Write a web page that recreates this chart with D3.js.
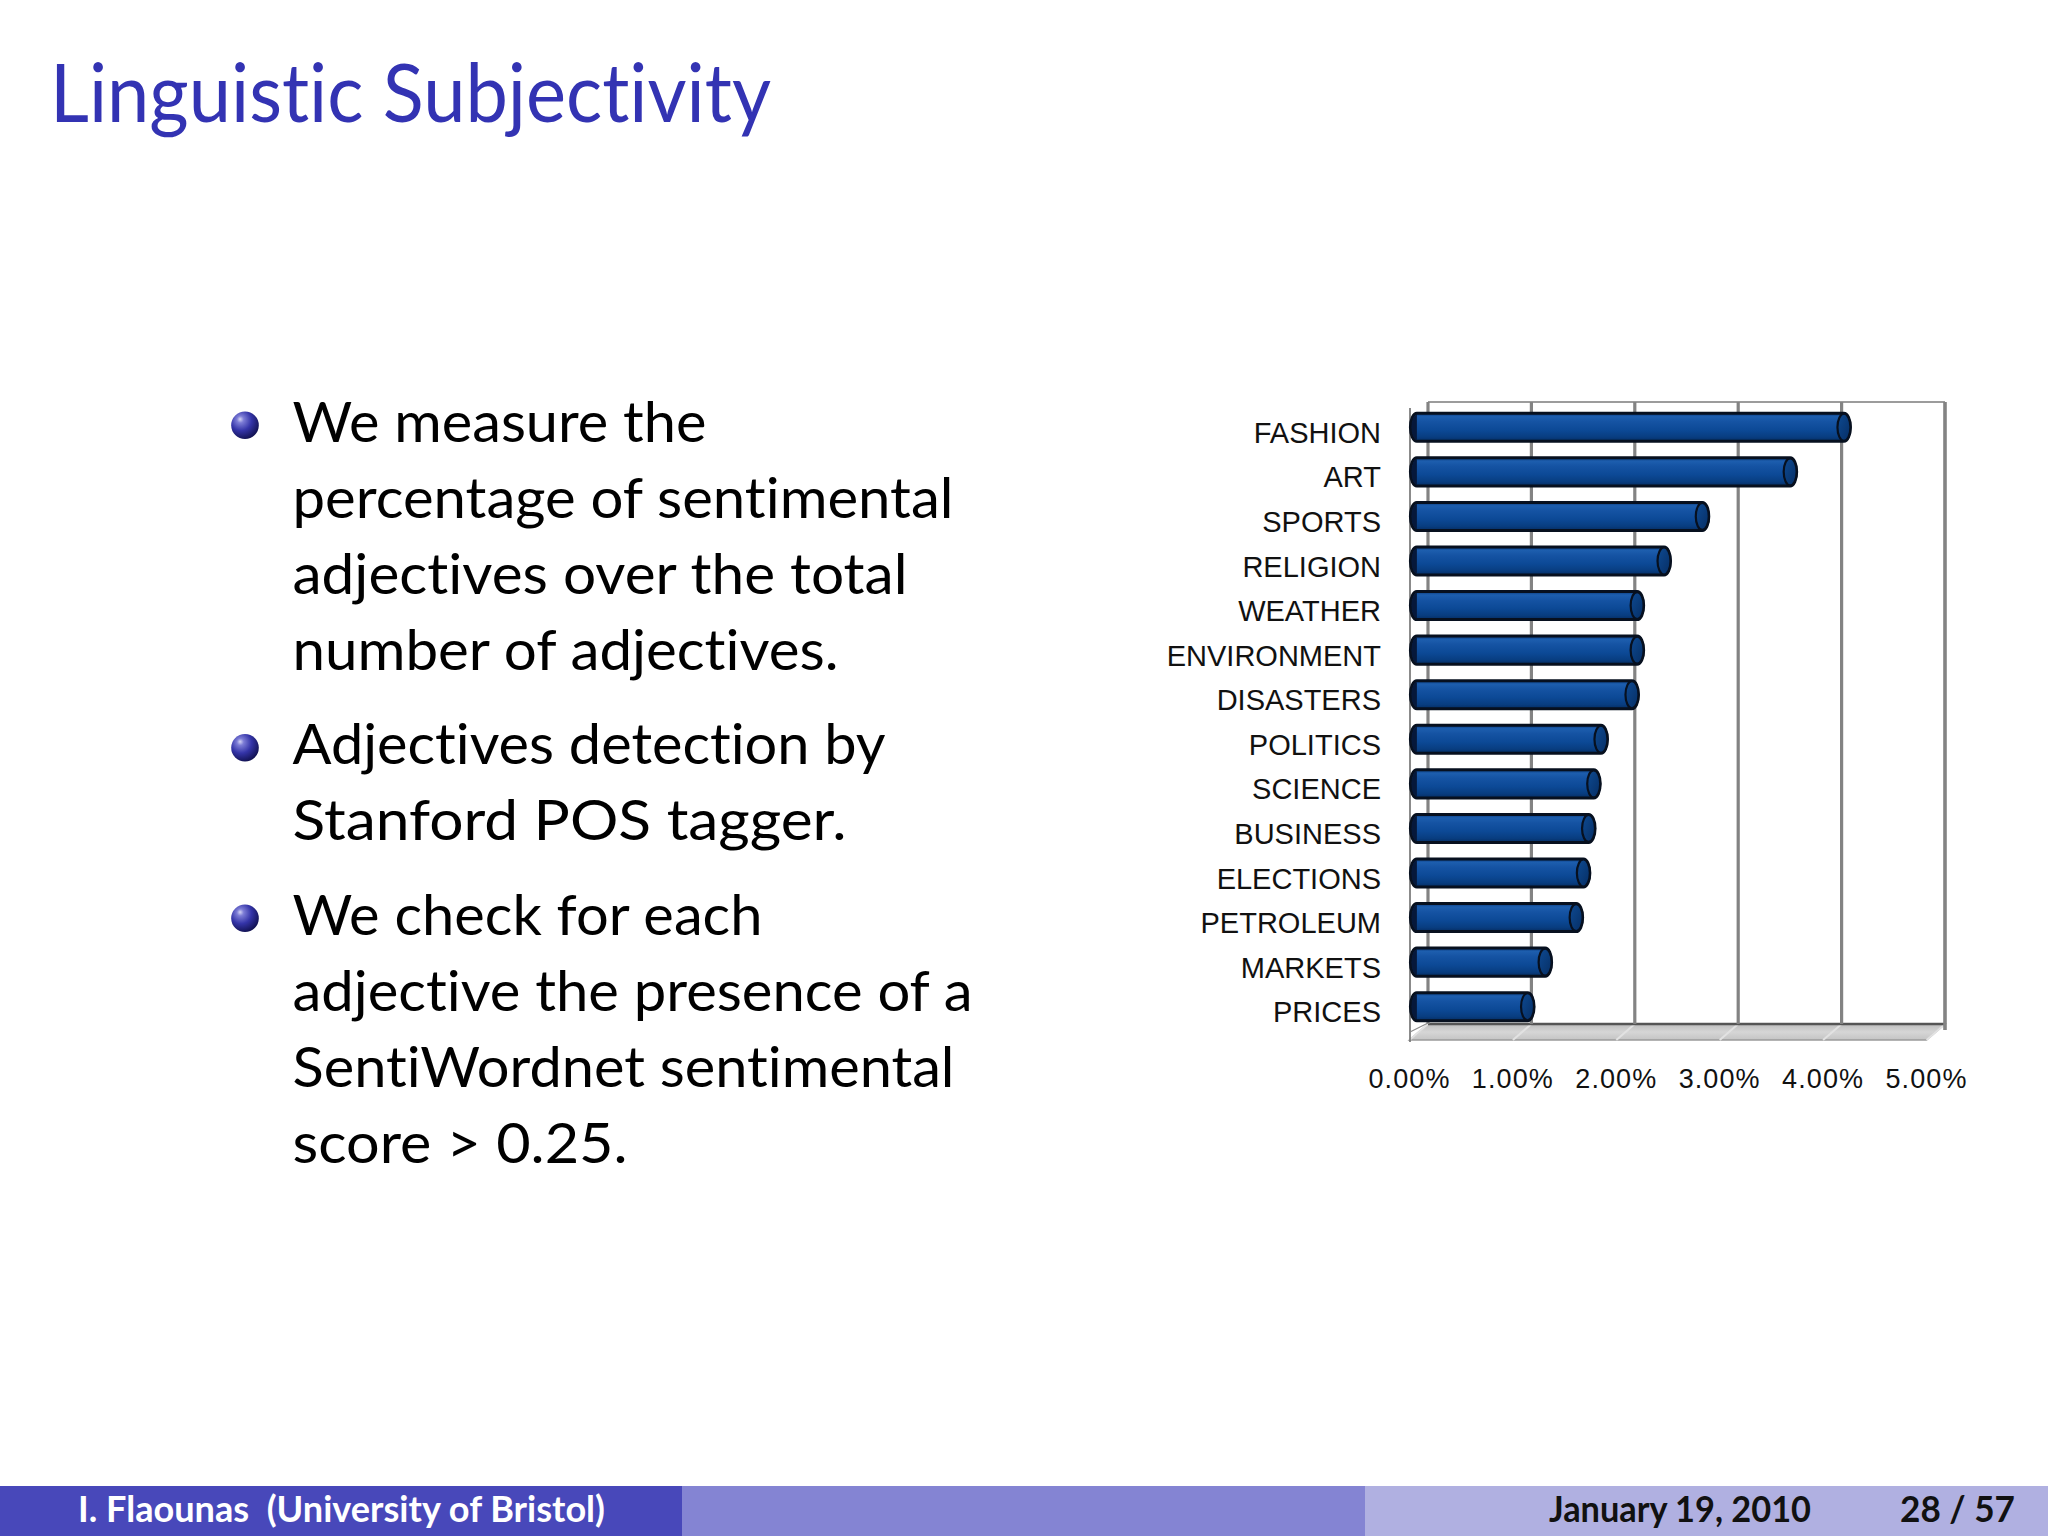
<!DOCTYPE html>
<html><head><meta charset="utf-8">
<script src="https://cdn.jsdelivr.net/npm/d3@7"></script>
<style>html,body{margin:0;padding:0;background:#fff;} svg{display:block;} text{font-variant-ligatures:none;font-feature-settings:"liga" 0,"clig" 0;}</style>
</head><body>
<svg id="c" width="2048" height="1536"></svg>
<script>
// ---- data ----
const categories = ["FASHION","ART","SPORTS","RELIGION","WEATHER","ENVIRONMENT","DISASTERS","POLITICS","SCIENCE","BUSINESS","ELECTIONS","PETROLEUM","MARKETS","PRICES"];
const values = [4.13,3.61,2.76,2.39,2.13,2.13,2.08,1.78,1.71,1.66,1.61,1.54,1.24,1.07];
const tickValues = [0,1,2,3,4,5];
const tickLabels = ["0.00%","1.00%","2.00%","3.00%","4.00%","5.00%"];
const titleText = "Linguistic Subjectivity";
const bulletItems = [
  ["We measure the","percentage of sentimental","adjectives over the total","number of adjectives."],
  ["Adjectives detection by","Stanford POS tagger."],
  ["We check for each","adjective the presence of a","SentiWordnet sentimental","score > 0.25."]
];
const bulletLineWidths = [[414,661,615,546],[593,554],[470,680,662,335]];
const footerAuthor = "I. Flaounas  (University of Bristol)";
const footerDate = "January 19, 2010";
const footerPage = "28 / 57";

// ---- layout ----
const svg = d3.select("#c");
const defs = svg.append("defs");

svg.append("rect").attr("width",2048).attr("height",1536).attr("fill","#fff");

// Title
svg.append("text").text(titleText)
  .attr("x",50).attr("y",121.5)
  .attr("font-family","Lato, 'Open Sans', sans-serif").attr("font-size",82)
  .attr("fill","#3333b3")
  .attr("textLength",721).attr("lengthAdjust","spacingAndGlyphs");

// Bullet ball gradient
const bg = defs.append("radialGradient").attr("id","ball")
  .attr("cx","0.38").attr("cy","0.34").attr("r","0.7").attr("fx","0.32").attr("fy","0.28");
bg.append("stop").attr("offset","0").attr("stop-color","#d4d4f4");
bg.append("stop").attr("offset","0.18").attr("stop-color","#7c7cd6");
bg.append("stop").attr("offset","0.55").attr("stop-color","#3434a8");
bg.append("stop").attr("offset","1").attr("stop-color","#10104e");

const lineH = 76, itemGap = 94.5;
let yb = 441.7;
bulletItems.forEach((lines, i) => {
  svg.append("circle").attr("cx",245).attr("cy",yb-16.5).attr("r",13.8).attr("fill","url(#ball)");
  lines.forEach((ln, j) => {
    svg.append("text").text(ln)
      .attr("x",292.5).attr("y",yb + j*lineH)
      .attr("font-family","Lato, 'Open Sans', sans-serif").attr("font-size",56)
      .attr("fill","#000")
      .attr("textLength",bulletLineWidths[i][j]).attr("lengthAdjust","spacingAndGlyphs");
  });
  yb += (lines.length-1)*lineH + itemGap;
});

// ---- chart ----
const DX = -18.5, DY = 16;            // depth offset back -> front
const barDepth = 0.6;                 // bars sit 60% of the way toward the front
const x = d3.scaleLinear().domain([0,5]).range([1428,1945]);   // back plane
const topY = 402, floorY = 1024;
const y = d3.scaleBand().domain(categories).range([405,1029]).paddingInner(0.37).paddingOuter(0.185);

const g = svg.append("g");

// floor
const fg = defs.append("linearGradient").attr("id","floor").attr("x1",0).attr("y1",0).attr("x2",0).attr("y2",1);
fg.append("stop").attr("offset","0").attr("stop-color","#bdbdbd");
fg.append("stop").attr("offset","0.5").attr("stop-color","#d6d6d6");
fg.append("stop").attr("offset","1").attr("stop-color","#c4c4c4");
g.append("path")
  .attr("d",`M${x(0)},${floorY} L${x(5)},${floorY} L${x(5)+DX},${floorY+DY} L${x(0)+DX},${floorY+DY} Z`)
  .attr("fill","url(#floor)").attr("stroke","#9a9a9a").attr("stroke-width",1.5);
// faint floor grid continuations
g.selectAll(".fl").data(tickValues).join("line")
  .attr("x1",d=>x(d)).attr("y1",floorY).attr("x2",d=>x(d)+DX).attr("y2",floorY+DY)
  .attr("stroke","#e2e2e2").attr("stroke-width",2);
g.append("line").attr("x1",x(0)).attr("x2",x(5)).attr("y1",floorY).attr("y2",floorY)
  .attr("stroke","#555").attr("stroke-width",2.5);

// back wall top line
g.append("line").attr("x1",x(0)).attr("x2",x(5)).attr("y1",topY).attr("y2",topY)
  .attr("stroke","#9c9c9c").attr("stroke-width",2.2);
// vertical gridlines
g.selectAll(".grid").data(tickValues).join("line")
  .attr("x1",d=>x(d)).attr("x2",d=>x(d)).attr("y1",topY).attr("y2",d=>d===5?floorY+6:floorY)
  .attr("stroke","#838383").attr("stroke-width",d=>d===5?3.6:3.2);
// left wall front edge
g.append("line").attr("x1",x(0)+DX+0.5).attr("x2",x(0)+DX+0.5).attr("y1",topY+6).attr("y2",floorY+DY+2)
  .attr("stroke","#6e6e6e").attr("stroke-width",1.6);
g.append("line").attr("x1",x(0)+DX+0.5).attr("y1",floorY+DY-8).attr("x2",x(0)).attr("y2",floorY-1)
  .attr("stroke","#8a8a8a").attr("stroke-width",1.2);

// bars (cylinders)
const bgr = defs.append("linearGradient").attr("id","bar").attr("x1",0).attr("y1",0).attr("x2",0).attr("y2",1);
[["0","#0a3a7c"],["0.12","#1d5eae"],["0.3","#1553a3"],["0.6","#0c4996"],["0.85","#083d80"],["1","#052d62"]]
  .forEach(([o,c])=>bgr.append("stop").attr("offset",o).attr("stop-color",c));
const cgr = defs.append("linearGradient").attr("id","cap").attr("x1",0).attr("y1",0).attr("x2",1).attr("y2",1);
[["0","#0e4a92"],["1","#062e64"]].forEach(([o,c])=>cgr.append("stop").attr("offset",o).attr("stop-color",c));

const bx = v => x(v) + barDepth*DX;
const hh = y.bandwidth()/2, rx = 6.5;
const bars = g.selectAll(".bar").data(categories.map((c,i)=>({c, v:values[i]}))).join("g");
bars.append("path")
  .attr("d", d => {
    const cy = y(d.c)+hh, x0 = bx(0), x1 = bx(d.v);
    return `M${x0},${cy-hh} L${x1},${cy-hh} A${rx},${hh} 0 0 1 ${x1},${cy+hh} L${x0},${cy+hh} A${rx},${hh} 0 0 1 ${x0},${cy-hh} Z`;
  })
  .attr("fill","url(#bar)").attr("stroke","#07101f").attr("stroke-width",3);
bars.append("path")
  .attr("d", d => {
    const cy = y(d.c)+hh, x0 = bx(0);
    return `M${x0},${cy-hh+1.5} A${rx-1},${hh-1.5} 0 0 0 ${x0},${cy+hh-1.5} Z`;
  })
  .attr("fill","#06183a");
bars.append("ellipse")
  .attr("cx", d => bx(d.v)).attr("cy", d => y(d.c)+hh)
  .attr("rx", rx).attr("ry", hh-0.5)
  .attr("fill","url(#cap)").attr("stroke","#07101f").attr("stroke-width",2.2);

// category labels
g.selectAll(".cat").data(categories).join("text")
  .text(d=>d)
  .attr("x",1381).attr("y",d=>y(d)+hh+15.5)
  .attr("text-anchor","end")
  .attr("font-family","'Liberation Sans', Arial, sans-serif").attr("font-size",29)
  .attr("fill","#111");

// tick labels
g.selectAll(".tick").data(tickValues).join("text")
  .text((d,i)=>tickLabels[i])
  .attr("x",d=>x(d)+DX).attr("y",1088)
  .attr("text-anchor","middle")
  .attr("font-family","'Liberation Sans', Arial, sans-serif").attr("font-size",27)
  .attr("letter-spacing",1.1)
  .attr("fill","#111");

// ---- footer ----
const fy = 1486, fh = 50;
svg.append("rect").attr("x",0).attr("y",fy).attr("width",682).attr("height",fh).attr("fill","#4848ba");
svg.append("rect").attr("x",682).attr("y",fy).attr("width",683).attr("height",fh).attr("fill","#8484d3");
svg.append("rect").attr("x",1365).attr("y",fy).attr("width",683).attr("height",fh).attr("fill","#b0b0e1");
svg.append("text").text(footerAuthor)
  .attr("x",341.5).attr("y",1521.5).attr("text-anchor","middle")
  .attr("font-family","Lato, sans-serif").attr("font-weight",700).attr("font-size",36)
  .attr("fill","#fff").style("white-space","pre")
  .attr("textLength",527).attr("lengthAdjust","spacingAndGlyphs");
svg.append("text").text(footerDate)
  .attr("x",1549).attr("y",1521.5)
  .attr("font-family","Lato, sans-serif").attr("font-weight",700).attr("font-size",36)
  .attr("fill","#111")
  .attr("textLength",262).attr("lengthAdjust","spacingAndGlyphs");
svg.append("text").text(footerPage)
  .attr("x",1900).attr("y",1521.5)
  .attr("font-family","Lato, sans-serif").attr("font-weight",700).attr("font-size",36)
  .attr("fill","#111").style("white-space","pre")
  .attr("textLength",115).attr("lengthAdjust","spacingAndGlyphs");
</script>
</body></html>
